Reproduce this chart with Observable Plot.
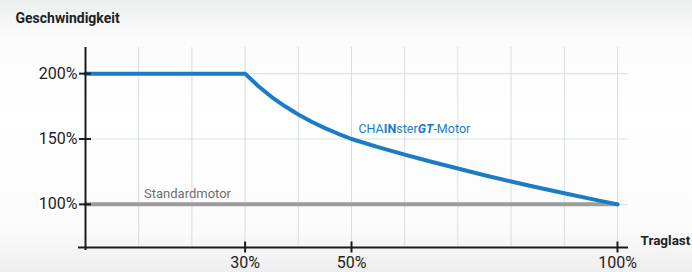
<!DOCTYPE html>
<html><head><meta charset="utf-8">
<script src="https://cdn.jsdelivr.net/npm/d3@7"></script>
<script src="https://cdn.jsdelivr.net/npm/@observablehq/plot@0.6"></script>
<style>
html,body{margin:0;padding:0;}
body{width:692px;height:272px;overflow:hidden;
background:linear-gradient(to bottom,#eceeed 0px,#fbfbfb 38px,#ffffff 120px,#fbfbfb 230px,#eeeeee 272px);
font-family:Roboto,"Noto Sans",sans-serif;}
#chart svg{display:block;}
</style></head><body><div id="chart"></div>
<script>
// Data
const loadGT = [0, 30, 32.5, 35, 37.5, 40, 42.5, 45, 47.5, 50, 55, 60, 65, 70, 75, 80, 85, 90, 95, 100];
const speedGT = [200, 200, 190.4, 182.1, 175, 168.8, 163.2, 158.3, 154, 150, 143.8, 138, 132.6, 127.4, 122.3, 117.5, 112.9, 108.5, 104.2, 100];
const loadStd = [0, 100];
const speedStd = [100, 100];
const xTicks = [30, 50, 100];
const xGrid = [10, 20, 30, 40, 50, 60, 70, 80, 90, 100];
const yTicks = [100, 150, 200];
const xDomain = [0, 100];
const yDomain = [67, 220];
const yTitle = "Geschwindigkeit";
const xTitle = "Traglast";
const stdLabel = ["Standardmotor"];
const stdLabelPos = [{x: 11, y: 100}];
const gtLabel = ["CHAINsterGT-Motor"];
const gtLabelPos = [{x: 51.3, y: 158}];

const gt = loadGT.map((x, i) => ({x, y: speedGT[i]}));
const std = loadStd.map((x, i) => ({x, y: speedStd[i]}));
const BLUE = "#1c7cc3", GREY = "#9c9c9c", GRID = "#d5dfe0", AX = "#1c1c1c";
const pct = d => d + "%";

const chart = Plot.plot({
  width: 692, height: 272,
  marginLeft: 85, marginRight: 75, marginTop: 47, marginBottom: 25,
  style: {background: "transparent", fontFamily: "Roboto, 'Noto Sans', sans-serif", overflow: "visible"},
  x: {domain: xDomain, axis: null},
  y: {domain: yDomain, axis: null},
  marks: [
    Plot.ruleX(xGrid, {stroke: GRID, strokeWidth: 1}),
    Plot.ruleY(yTicks, {stroke: GRID, strokeWidth: 1, insetRight: -11}),
    Plot.line(std, {x: "x", y: "y", stroke: GREY, strokeWidth: 4}),
    Plot.line(gt, {x: "x", y: "y", stroke: BLUE, strokeWidth: 4, strokeLinejoin: "round"}),
    Plot.ruleY([yDomain[0]], {stroke: AX, strokeWidth: 2, insetLeft: -7, insetRight: -11}),
    Plot.ruleX([xDomain[0]], {stroke: AX, strokeWidth: 2, insetBottom: -3}),
    // x ticks crossing the axis
    Plot.ruleX(xTicks, {x: d => d, y1: yDomain[0], y2: yDomain[0], insetTop: -5.5, insetBottom: -5.5, stroke: AX, strokeWidth: 2}),
    Plot.text(xTicks, {x: d => d, frameAnchor: "bottom", dy: 20, text: pct, fontSize: 16, fill: "#222"}),
    // y ticks crossing the axis
    Plot.ruleY(yTicks, {y: d => d, x1: xDomain[0], x2: xDomain[0], insetLeft: -6, insetRight: -6, stroke: AX, strokeWidth: 2}),
    Plot.text(yTicks, {y: d => d, frameAnchor: "left", dx: -8, textAnchor: "end", text: pct, fontSize: 16, fill: "#222"}),
    Plot.text(stdLabel, {x: stdLabelPos.map(d => d.x), y: stdLabelPos.map(d => d.y), text: d => d, dy: -11, textAnchor: "start", fill: "#6e6e6e", fontSize: 13}),
    Plot.text(gtLabel, {x: gtLabelPos.map(d => d.x), y: gtLabelPos.map(d => d.y), text: d => d, textAnchor: "start", fill: BLUE, fontSize: 12.5}),
    Plot.text([yTitle], {frameAnchor: "top-left", dx: -70, dy: -34, textAnchor: "start", fontWeight: "bold", fontSize: 14, fill: "#222"}),
    Plot.text([xTitle], {frameAnchor: "bottom-right", dx: 23, dy: -3, textAnchor: "start", fontWeight: "bold", fontSize: 13.5, fill: "#222"})
  ]
});
document.getElementById("chart").appendChild(chart);

// Styled brand label
d3.select(chart).selectAll("text").filter(function() { return this.textContent === gtLabel[0]; })
  .each(function() {
    const t = d3.select(this);
    const parts = [["CHA", "normal", "normal"], ["IN", "bold", "normal"], ["ster", "normal", "normal"], ["GT", "bold", "italic"], ["-Motor", "normal", "normal"]];
    const holder = t.select("tspan").empty() ? t : t.select("tspan");
    holder.text(null);
    parts.forEach(([s, w, st]) => holder.append("tspan").attr("font-weight", w).attr("font-style", st).text(s));
  });
</script></body></html>
